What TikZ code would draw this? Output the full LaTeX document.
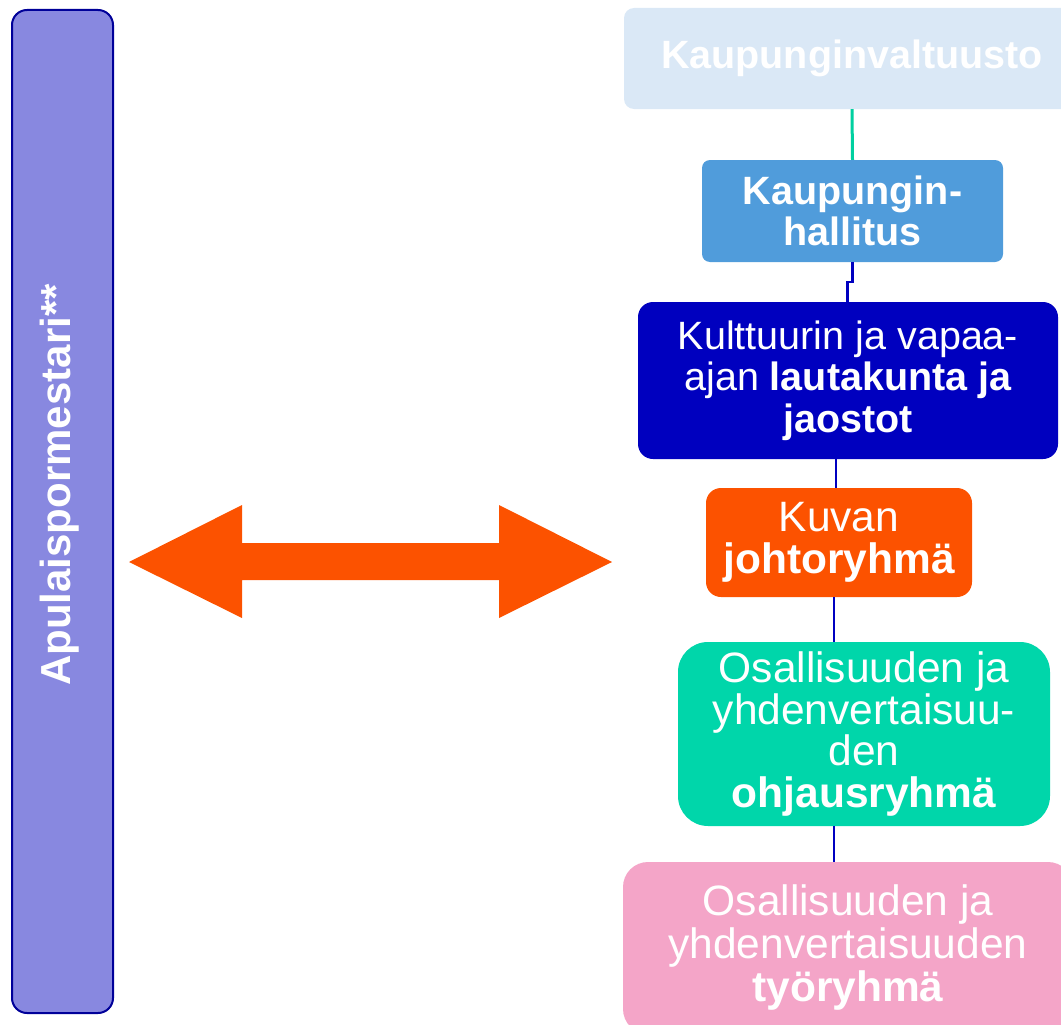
\documentclass[tikz,border=0pt]{standalone}
\usepackage{fontspec}
\setmainfont{Liberation Sans}
\definecolor{cvalt}{HTML}{DAE8F6}
\definecolor{chall}{HTML}{509CDB}
\definecolor{clauta}{HTML}{0000BF}
\definecolor{corange}{HTML}{FC5200}
\definecolor{cgreen}{HTML}{00D6AA}
\definecolor{cpink}{HTML}{F4A5C8}
\definecolor{cbar}{HTML}{8888E0}
\definecolor{cbarline}{HTML}{000099}
\definecolor{cline}{HTML}{0000C0}
\definecolor{cgline}{HTML}{00D0A0}
\tikzset{
  orgbox/.style={rectangle, inner sep=0pt, align=center, text=white,
    font=\fontsize{39.5}{41.5}\selectfont},
  conn/.style={draw=cline, line width=2.2pt},
}
\begin{document}
\begin{tikzpicture}[x=1pt,y=-1pt]
\useasboundingbox (0,0) rectangle (1061,1025);
\clip (0,0) rectangle (1061,1025);

% left bar
\node[draw=cbarline, line width=2pt, fill=cbar, rounded corners=15pt,
      minimum width=101pt, minimum height=1003pt, inner sep=0pt] (bar) at (62.5,511.5) {};
\node[rotate=90, anchor=base, text=white, font=\fontsize{42}{44}\selectfont\bfseries, inner sep=0pt]
      (bartext) at (70,485) {Apulaispormestari**};

% double arrow
\fill[corange] (129,562) -- (242,505) -- (242,543) -- (499,543) -- (499,505)
   -- (612,562) -- (499,618) -- (499,580) -- (242,580) -- (242,618) -- cycle;

% boxes
\node[orgbox, fill=cvalt, rounded corners=10pt, minimum width=456pt, minimum height=101pt,
      font=\fontsize{39.5}{41.5}\selectfont\bfseries] (valt) at (852,58.5) {Kaupunginvaltuusto};
\node[orgbox, fill=chall, rounded corners=8pt, minimum width=301pt, minimum height=102pt,
      font=\fontsize{39.5}{41.5}\selectfont\bfseries] (hall) at (852.5,211) {Kaupungin-\\hallitus};
\node[orgbox, fill=clauta, rounded corners=15pt, minimum width=420pt, minimum height=157pt]
      (lauta) at (848,380.5) {Kulttuurin ja vapaa-\\ajan \textbf{lautakunta ja}\\\textbf{jaostot}};
\node[orgbox, fill=corange, rounded corners=15pt, minimum width=266pt, minimum height=109pt,
      font=\fontsize{42.5}{42}\selectfont]
      (johto) at (839,542.5) {Kuvan\\\textbf{johtoryhmä}};
\node[orgbox, fill=cgreen, rounded corners=30pt, minimum width=372pt, minimum height=184pt,
      font=\fontsize{42.5}{41.5}\selectfont]
      (ohjaus) at (864,734) {Osallisuuden ja\\yhdenvertaisuu-\\den\\\textbf{ohjausryhmä}};
\node[orgbox, fill=cpink, rounded corners=25pt, minimum width=450pt, minimum height=172pt,
      font=\fontsize{42.5}{43}\selectfont] (tyo) at (848,948) {Osallisuuden ja\\yhdenvertaisuuden\\\textbf{työryhmä}};

% connectors
\draw[draw=cgline, line width=3pt] (valt.south) -- (hall.north);
\draw[conn] (hall.south) -- ++(0,20) -| ([xshift=-0.5pt]lauta.north);
\draw[conn] ([xshift=-12pt]lauta.south) -- ([xshift=-3pt]johto.north);
\draw[conn] ([xshift=-5pt]johto.south) -- ([xshift=-30pt]ohjaus.north);
\draw[conn] ([xshift=-30pt]ohjaus.south) -- ([xshift=-14pt]tyo.north);
\end{tikzpicture}
\end{document}
